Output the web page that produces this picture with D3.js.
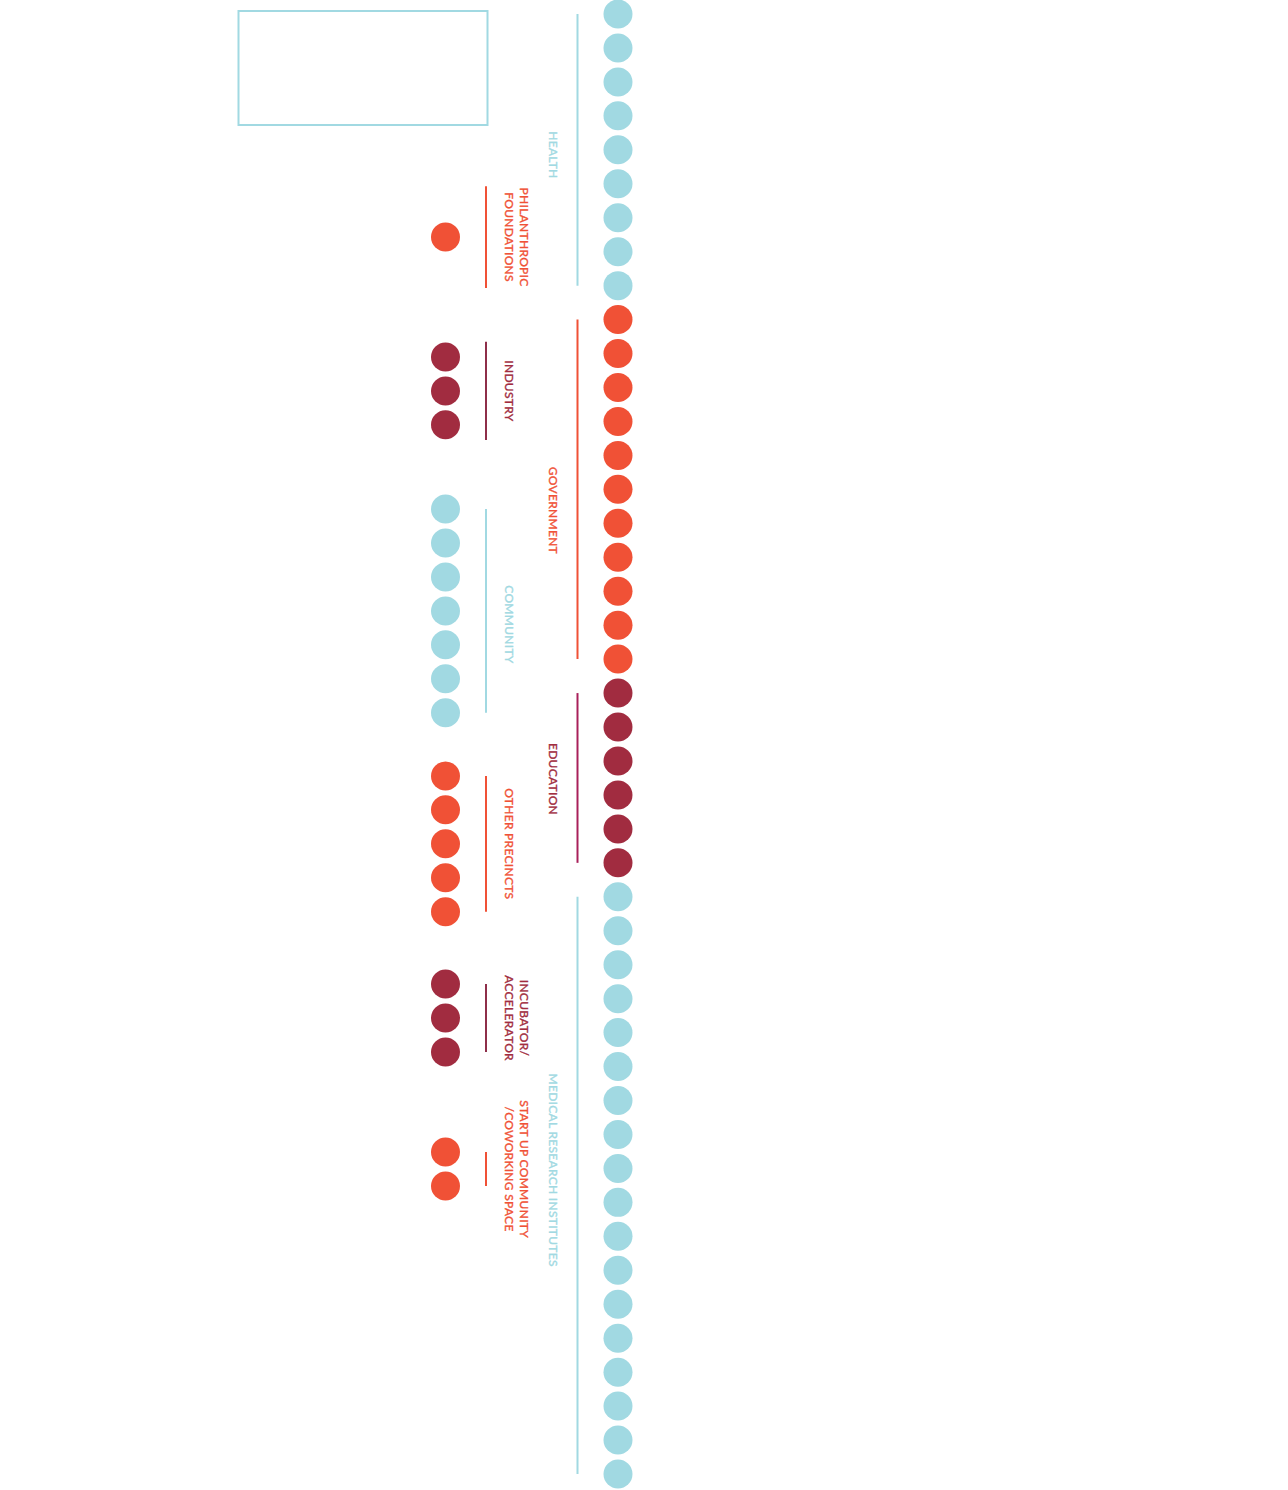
<!DOCTYPE html>
<html>
<head>
<meta charset="utf-8">
<script src="https://cdn.jsdelivr.net/npm/d3@7"></script>
<style>
  html, body { margin: 0; padding: 0; background: #fff; }
  svg { display: block; }
  text { font-family: Lato, "Open Sans", sans-serif; font-size: 12px; }
</style>
</head>
<body>
<svg id="chart" width="1288" height="1490"></svg>
<script>
// ---- data ----
const rightLabels = [["HEALTH"], ["GOVERNMENT"], ["EDUCATION"], ["MEDICAL RESEARCH INSTITUTES"]];
const rightCounts = [9, 11, 6, 18];
const rightColors = ["#a1d9e2", "#f05136", "#a12c40", "#a1d9e2"];
const rightLineColors = ["#a1d9e2", "#f05136", "#a8205a", "#a1d9e2"];

const leftLabels = [["PHILANTHROPIC", "FOUNDATIONS"], ["INDUSTRY"], ["COMMUNITY"], ["OTHER PRECINCTS"], ["INCUBATOR/", "ACCELERATOR"], ["START UP COMMUNITY", "/COWORKING SPACE"]];
const leftCounts = [1, 3, 7, 5, 3, 2];
const leftStart = [6.57, 10.1, 14.58, 22.44, 28.57, 33.52];   // slot index of first dot
const leftLinePad = [1.5, 0.45, 0, 0, 0, 0];                 // bracket extension, in slots
const leftColors = ["#f05136", "#a12c40", "#a1d9e2", "#f05136", "#a12c40", "#f05136"];
const leftLineColors = ["#f05136", "#8e2f4a", "#a1d9e2", "#f05136", "#8e2f4a", "#f05136"];

// ---- layout ----
const rightLabelNudge = [0.15, 0.62, 0.03, -0.45];   // label offset from group centre, in slots
const leftLabelNudge = [0, 0, 0.4, 0, 0, 0];

const svg = d3.select("#chart");
const totalSlots = d3.sum(rightCounts);
const y = d3.scaleLinear().domain([0, totalSlots - 1]).range([14, 1474]);
const col = d3.scalePoint().domain(["left", "right"]).range([445.5, 618]);
const r = 14.5;

// empty legend box
svg.append("rect")
  .attr("x", 238.5).attr("y", 11).attr("width", 249).attr("height", 114)
  .attr("fill", "none").attr("stroke", "#a1d9e2").attr("stroke-width", 2);

// right column groups
let idx = 0;
const rightGroups = rightCounts.map((c, i) => {
  const g = { start: idx, end: idx + c - 1, nudge: rightLabelNudge[i], label: rightLabels[i], color: rightColors[i], lineColor: rightLineColors[i] };
  idx += c;
  return g;
});
const rightDots = rightGroups.flatMap(g => d3.range(g.start, g.end + 1).map(k => ({ k, color: g.color })));

svg.append("g").selectAll("circle").data(rightDots).join("circle")
  .attr("cx", col("right")).attr("cy", d => y(d.k)).attr("r", r).attr("fill", d => d.color);

const lineXRight = 577.5, labelXRight = 549;
svg.append("g").selectAll("line").data(rightGroups).join("line")
  .attr("x1", lineXRight).attr("x2", lineXRight)
  .attr("y1", d => y(d.start)).attr("y2", d => y(d.end))
  .attr("stroke", d => d.lineColor).attr("stroke-width", 2);

function drawLabels(groups, baseX) {
  groups.forEach(g => {
    const cy = y((g.start + g.end) / 2 + g.nudge);
    const n = g.label.length;
    g.label.forEach((t, i) => {
      const bx = baseX + 14.5 * (n - 1 - i);
      svg.append("text")
        .attr("transform", `translate(${bx},${cy}) rotate(90)`)
        .attr("text-anchor", "middle")
        .attr("fill", g.color)
        .attr("stroke", g.color)
        .attr("stroke-width", 0.35)
        .attr("letter-spacing", "0.3px")
        .text(t);
    });
  });
}
drawLabels(rightGroups, labelXRight);

// left column groups
const leftGroups = leftCounts.map((c, i) => ({
  start: leftStart[i], end: leftStart[i] + c - 1, pad: leftLinePad[i], nudge: leftLabelNudge[i],
  label: leftLabels[i], color: leftColors[i], lineColor: leftLineColors[i]
}));
const leftDots = leftGroups.flatMap(g => d3.range(0, g.end - g.start + 1).map(k => ({ k: g.start + k, color: g.color })));

svg.append("g").selectAll("circle").data(leftDots).join("circle")
  .attr("cx", col("left")).attr("cy", d => y(d.k)).attr("r", r).attr("fill", d => d.color);

const lineXLeft = 486, labelXLeft = 505;
svg.append("g").selectAll("line").data(leftGroups).join("line")
  .attr("x1", lineXLeft).attr("x2", lineXLeft)
  .attr("y1", d => y(d.start - d.pad)).attr("y2", d => y(d.end + d.pad))
  .attr("stroke", d => d.lineColor).attr("stroke-width", 2);

drawLabels(leftGroups, labelXLeft);
</script>
</body>
</html>
